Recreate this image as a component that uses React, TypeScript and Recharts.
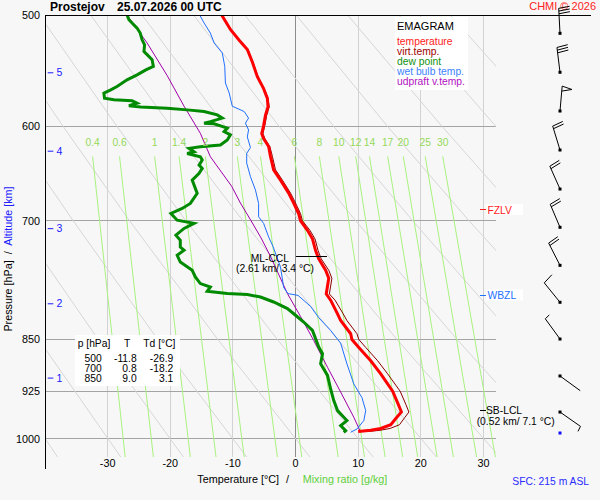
import React from "react";
import { ComposedChart, Line, Scatter, XAxis, YAxis } from "recharts";

// [pressure hPa, temperature °C]
type Pt = [number, number];

const TEMPERATURE: Pt[] = [
  [500, -11.8], [512, -10.4], [521, -9.0], [529, -7.7], [540, -6.9], [553, -6.1],
  [564, -5.1], [573, -4.5], [581, -4.4], [589, -4.8], [599, -5.1], [607, -5.4],
  [612, -5.1], [620, -4.3], [630, -4.0], [644, -3.5], [655, -2.4], [669, -1.1],
  [680, -0.3], [692, 0.5], [700, 0.8], [711, 1.9], [721, 2.7], [735, 3.2],
  [745, 3.7], [759, 4.8], [769, 5.3], [789, 4.9], [797, 5.6], [815, 6.7],
  [824, 7.2], [842, 8.8], [850, 9.0], [861, 10.1], [880, 12.0], [899, 13.6],
  [925, 15.5], [945, 16.4], [957, 16.9], [966, 16.1], [977, 15.2], [983, 13.6],
  [986, 12.0], [988, 10.0],
];

const VIRT_TEMP: Pt[] = [
  [500, -11.7], [512, -10.3], [521, -8.9], [529, -7.6], [540, -6.8], [553, -6.0],
  [564, -5.0], [573, -4.4], [581, -4.2], [589, -4.6], [599, -4.9], [607, -5.2],
  [612, -4.9], [620, -4.1], [630, -3.7], [644, -3.2], [655, -2.1], [669, -0.8],
  [680, 0.0], [692, 0.8], [700, 1.1], [711, 2.3], [721, 3.1], [735, 3.6],
  [745, 4.1], [759, 5.3], [769, 5.8], [789, 5.4], [797, 6.3], [815, 7.6],
  [824, 8.2], [842, 9.8], [850, 10.1], [861, 11.2], [880, 13.1], [899, 14.7],
  [925, 16.7], [945, 17.6], [957, 18.1], [966, 17.4], [977, 16.6], [983, 15.1],
  [986, 13.5], [988, 11.5],
];

const DEW_POINT: Pt[] = [
  [500, -26.9], [503.9, -26.6], [506.6, -26.1], [510.8, -25.3], [515, -24.8],
  [520.7, -24.5], [525, -24.1], [530.7, -24.2], [533.5, -23.7], [538, -22.9],
  [543.9, -22.7], [546.9, -23.9], [551.4, -25.3], [555.9, -26.9], [562, -28.5],
  [565.1, -29.5], [568.1, -30.6], [572.8, -30.5], [574.4, -29.0], [575.3, -26.1],
  [577.5, -25.3], [580, -26.6], [581.2, -24.7], [582.3, -20.5], [583.9, -17.3],
  [585.5, -14.6], [588.7, -12.5], [591.8, -11.7], [595.2, -13.6], [596.7, -14.6],
  [597.4, -13.0], [601.6, -10.9], [604.9, -11.4], [608.2, -10.4], [613.4, -10.9],
  [618.5, -12.0], [620.2, -15.2], [621.8, -17.0], [625.3, -16.2], [627, -17.3],
  [630.4, -15.2], [633.8, -14.9], [639.1, -15.4], [642.5, -14.9], [647.8, -15.4],
  [654.9, -16.5], [669.3, -15.7], [680.4, -16.8], [686, -18.1], [691.6, -19.9],
  [699.3, -18.9], [703, -16.2], [708.8, -17.8], [716.7, -19.1], [722.6, -18.4],
  [730.7, -18.4], [734.5, -17.8], [740.6, -18.9], [748.9, -18.4], [759, -16.5],
  [767.4, -16.0], [775.7, -15.2], [780, -13.6], [785.5, -14.1], [788.5, -10.9],
  [789.7, -7.7], [792.9, -5.6], [799.4, -3.5], [808, -1.3], [816.9, 0.0],
  [826, 1.3], [837.4, 2.7], [860.6, 3.7], [870.1, 4.3], [884.4, 4.0],
  [901.3, 5.1], [921.6, 5.6], [939.2, 6.1], [954.7, 6.7], [965.2, 7.7],
  [970.4, 8.2], [978.4, 7.2], [986.5, 8.0], [989.2, 7.7],
];

const WET_BULB: Pt[] = [
  [500, -15.3], [506.6, -14.6], [515, -13.6], [523.4, -13.0], [532, -11.7],
  [543.9, -11.3], [558.8, -11.2], [567.9, -10.6], [580.4, -10.1], [585.5, -8.2],
  [591.8, -7.5], [596.7, -8.0], [603.4, -7.5], [610.3, -7.7], [621, -7.2],
  [627, -7.8], [637, -7.8], [651.3, -7.2], [665.7, -6.4], [680.4, -5.9],
  [695.4, -5.9], [703, -5.1], [718.7, -4.3], [730, -3.6], [755, -2.4],
  [780.6, -1.9], [788.5, -1.2], [790.8, 0.4], [805.2, 2.4], [820.2, 3.7],
  [837.4, 5.6], [855, 7.2], [884.4, 8.2], [914, 9.3], [934.7, 10.6],
  [954.7, 11.2], [970.4, 10.9], [983.9, 9.8], [989.2, 8.8],
];

const UPDRAFT: Pt[] = [
  [500, -26.9], [523.4, -23.7], [552, -20.5], [580.4, -17.8], [606.7, -15.2],
  [630.4, -13.6], [661.6, -10.2], [680, -8.8], [700, -7.1], [720, -5.5],
  [742, -4.0], [788.5, -1.3], [818.6, 0.8], [851.3, 2.9], [889.4, 5.1],
  [926.2, 7.2], [965.2, 9.3], [989.2, 10.4],
];

const P_TICKS = [500, 600, 700, 850, 925, 1000];
const T_TICKS = [-30, -20, -10, 0, 10, 20, 30];

// mixing ratio lines, g/kg, temperature where they start (630 hPa) and end (1030 hPa)
const MIX_W = [0.4, 0.6, 1, 1.4, 2, 3, 4, 6, 8, 10, 12, 14, 17, 20, 25, 30];
const MIX_T_TOP = [-32.4, -28.1, -22.5, -18.6, -14.4, -9.3, -5.6, -0.2, 3.8, 6.9, 9.6, 11.8, 14.7, 17.2, 20.7, 23.5];
const MIX_T_BOTTOM = [-27.2, -22.7, -16.8, -12.7, -8.2, -2.9, 1.0, 6.8, 11.0, 14.3, 17.1, 19.5, 22.6, 25.2, 28.9, 31.9];

// dry adiabats, temperature at each of the pressure levels
const ADIABAT_P = [500, 600, 700, 850, 1030];
const ADIABAT_T = [
  [-81.9, -71.7, -62.6, -50.6, -38.0],
  [-73.7, -63.1, -53.6, -41.0, -27.9],
  [-65.5, -54.4, -44.6, -31.5, -17.9],
  [-57.3, -45.8, -35.5, -22.0, -7.8],
  [-49.1, -37.1, -26.5, -12.4, 2.3],
  [-40.9, -28.5, -17.5, -2.9, 12.4],
  [-32.7, -19.9, -8.4, 6.7, 22.5],
  [-24.5, -11.2, 0.6, 16.2, 32.6],
  [-16.3, -2.6, 9.6, 25.8, 42.7],
  [-8.1, 6.1, 18.7, 35.3, 52.7],
  [0.1, 14.7, 27.7, 44.9, 62.8],
  [8.3, 23.4, 36.7, 54.4, 72.9],
  [16.5, 32.0, 45.8, 64.0, 83.0],
  [24.7, 40.6, 54.8, 73.5, 93.1],
];

const ALT_KM = [1, 2, 3, 4, 5];
const ALT_P = [904.6, 801.1, 708.5, 624.2, 549.1];

// wind barbs every 0.5 km, top down
const WIND_P = [515.2, 549.1, 585.0, 623.5, 664.6, 707.5, 752.9, 799.8, 849.3, 902.2, 957.0];
const WIND_DIR = [357, 353, 5, 343, 336, 337, 333, 321, 324, 126, 125];
const WIND_KT = [30, 30, 50, 20, 20, 20, 20, 10, 5, 2, 5];
const SFC_P = 990.4;

const TABLE_P = [500, 700, 850];
const TABLE_T = [-11.8, 0.8, 9.0];
const TABLE_TD = [-26.9, -18.2, 3.1];

const FZLV_P = 687;
const WBZL_P = 790.7;
const SB_LCL_P = 954.7;
const ML_CCL_P = 742;

const FONT = "'Liberation Sans', Arial, Helvetica, sans-serif";

const rows = (pts: Pt[]) => pts.map(([p, t]) => ({ p, t }));

function seg(key: string, data: { p: number; t: number }[], stroke: string, width = 1, crisp = false) {
  return (
    <Line
      key={key}
      data={data}
      dataKey="p"
      stroke={stroke}
      strokeWidth={width}
      dot={false}
      activeDot={false}
      legendType="none"
      isAnimationActive={false}
      shapeRendering={crisp ? "crispEdges" : undefined}
    />
  );
}

function MixLabel(props: any) {
  const { cx, cy, payload } = props;
  return (
    <text x={cx} y={cy - 10.5} textAnchor="middle" fontSize={10.3} fill="#95d957" fontFamily={FONT}>
      {payload.w}
    </text>
  );
}

function AltLabel(props: any) {
  const { cx, cy, payload } = props;
  return (
    <g>
      <line x1={cx + 2.7} y1={cy + 0.5} x2={cx + 8.3} y2={cy + 0.5} stroke="#1a1aff" />
      <text x={cx + 11.5} y={cy + 4} fontSize={10.5} fill="#1a1aff" fontFamily={FONT}>
        {payload.km}
      </text>
    </g>
  );
}

function Barb(props: any) {
  const { cx, cy, payload } = props;
  if (payload.kt === null) {
    return <rect x={cx - 1.5} y={cy - 1.5} width={3} height={3} fill="#1010ff" />;
  }
  const a = (payload.dir * Math.PI) / 180;
  const ux = Math.sin(a);
  const uy = -Math.cos(a);
  const nx = -uy;
  const ny = ux;
  const L = 25;
  const tx = cx + ux * L;
  const ty = cy + uy * L;
  let d = `M${cx},${cy}L${tx},${ty}`;
  let rest = payload.kt;
  let off = 0;
  const at = (o: number) => [tx - ux * o, ty - uy * o];
  while (rest >= 50) {
    const [b1x, b1y] = at(off);
    const [b2x, b2y] = at(off + 5);
    const [mx, my] = at(off + 2.5);
    d += `M${b1x},${b1y}L${mx + nx * 10},${my + ny * 10}L${b2x},${b2y}`;
    off += 6;
    rest -= 50;
  }
  while (rest >= 10) {
    const [bx, by] = at(off);
    d += `M${bx},${by}l${nx * 11 + ux * 1.5},${ny * 11 + uy * 1.5}`;
    off += 2.7;
    rest -= 10;
  }
  if (rest >= 5) {
    const [bx, by] = at(off);
    d += `M${bx},${by}l${nx * 5.5 + ux * 0.8},${ny * 5.5 + uy * 0.8}`;
  }
  return (
    <g>
      <path d={d} stroke="#000" strokeWidth={1} fill="none" />
      <rect x={cx - 1.5} y={cy - 1.5} width={3} height={3} fill="#000" />
    </g>
  );
}

export default function App() {
  const isotherms = T_TICKS.map((t) =>
    seg(`iso${t}`, [{ t, p: 500 }, { t, p: 1030 }], t === 0 ? "#8c8c8c" : "#d2d2d2", 1, true)
  );
  const isobars = P_TICKS.filter((p) => p !== 500).map((p) =>
    seg(`bar${p}`, [{ t: -40, p }, { t: 32, p }], "#a4a4a4", 1, true)
  );
  const adiabats = ADIABAT_T.map((row, i) =>
    seg(`ad${i}`, row.map((t, j) => ({ t, p: ADIABAT_P[j] })), "#d6d6d6")
  );
  const mixing = MIX_W.map((w, i) =>
    seg(`mix${w}`, [{ t: MIX_T_TOP[i], p: 630 }, { t: MIX_T_BOTTOM[i], p: 1030 }], "#a9f27f")
  );
  const mixLabels = MIX_W.map((w, i) => ({ t: MIX_T_TOP[i], p: 630, w }));
  const altLabels = ALT_KM.map((km, i) => ({ t: -40, p: ALT_P[i], km }));
  const winds = [
    ...WIND_P.map((p, i) => ({ x: 0, p, dir: WIND_DIR[i], kt: WIND_KT[i] })),
    { x: 0, p: SFC_P, dir: 0, kt: null },
  ];
  const axisTick = { fontSize: 10.8, fill: "#000", fontFamily: FONT };

  return (
    <div style={{ position: "fixed", left: 0, top: 0, width: 600, height: 500, background: "#f7f7f7", fontFamily: FONT }}>
      <div style={{ position: "absolute", left: 0, top: 0 }}>
        <ComposedChart width={600} height={500} margin={{ top: 15, right: 104, bottom: 23, left: 0 }}>
          <XAxis
            type="number"
            dataKey="t"
            domain={[-40, 32]}
            allowDataOverflow
            ticks={T_TICKS}
            interval={0}
            tickLine={false}
            axisLine={false}
            tickSize={0}
            tickMargin={2}
            height={20}
            tick={axisTick}
          />
          <YAxis
            type="number"
            dataKey="p"
            scale="log"
            domain={[500, 1030]}
            allowDataOverflow
            reversed
            ticks={P_TICKS}
            interval={0}
            tickLine={false}
            axisLine={false}
            tickSize={0}
            tickMargin={5}
            width={45}
            tick={axisTick}
          />
          {isotherms}
          {isobars}
          {adiabats}
          {mixing}
          {seg("updraft", rows(UPDRAFT), "#a000a8")}
          {seg("wetbulb", rows(WET_BULB), "#1e6fff")}
          {seg("dewpoint", rows(DEW_POINT), "#008a00", 3)}
          {seg("virt", rows(VIRT_TEMP), "#8a0000")}
          {seg("temp", rows(TEMPERATURE), "#ff0000", 3)}
          {seg("ccl", [{ t: 0.1, p: ML_CCL_P }, { t: 5.0, p: ML_CCL_P }], "#000", 1, true)}
          {seg("fzlv", [{ t: 29.5, p: FZLV_P }, { t: 30.4, p: FZLV_P }], "#ff1a1a", 1, true)}
          {seg("wbzl", [{ t: 29.5, p: WBZL_P }, { t: 30.4, p: WBZL_P }], "#1e6fff", 1, true)}
          {seg("sblcl", [{ t: 29.5, p: SB_LCL_P }, { t: 30.4, p: SB_LCL_P }], "#000", 1, true)}
          <Scatter data={mixLabels} shape={MixLabel} isAnimationActive={false} legendType="none" />
          <Scatter data={altLabels} shape={AltLabel} isAnimationActive={false} legendType="none" />
        </ComposedChart>
      </div>

      <svg width={600} height={500} style={{ position: "absolute", left: 0, top: 0, pointerEvents: "none" }} fontFamily={FONT}>
        <line x1={45} y1={15.5} x2={591} y2={15.5} stroke="#000" />
        <line x1={45.5} y1={15} x2={45.5} y2={469} stroke="#000" />

        <text x={50} y={11} fontSize={12} fontWeight="bold" fill="#000">Prostejov</text>
        <text x={117} y={11} fontSize={12} fontWeight="bold" fill="#000">25.07.2026 00 UTC</text>
        <text x={596} y={10} fontSize={11} textAnchor="end" fill="#ff2222">CHMI © 2026</text>

        <rect x={395} y={17} width={73} height={73} fill="#fff" />
        <text x={397} y={30} fontSize={11} fill="#000">EMAGRAM</text>
        <text x={397} y={45} fontSize={10.3} fill="#ff1a1a">temperature</text>
        <text x={397} y={55} fontSize={10.3} fill="#a00000">virt.temp.</text>
        <text x={397} y={65} fontSize={10.3} fill="#109010">dew point</text>
        <text x={397} y={75} fontSize={10.3} fill="#3a82ff">wet bulb temp.</text>
        <text x={397} y={85} fontSize={10.3} fill="#b010c0">udpraft v.temp.</text>

        <rect x={75} y={335} width={105} height={51} fill="#fff" />
        <text x={77.7} y={347} fontSize={10.3} fill="#000">p [hPa]</text>
        <text x={124} y={347} fontSize={10.3} fill="#000">T</text>
        <text x={143.3} y={347} fontSize={10.3} fill="#000">Td [°C]</text>
        {TABLE_P.map((p, i) => (
          <g key={p}>
            <text x={101.7} y={361.7 + i * 10} fontSize={10.3} textAnchor="end" fill="#000">{p}</text>
            <text x={136.7} y={361.7 + i * 10} fontSize={10.3} textAnchor="end" fill="#000">{TABLE_T[i].toFixed(1)}</text>
            <text x={173.3} y={361.7 + i * 10} fontSize={10.3} textAnchor="end" fill="#000">{TABLE_TD[i].toFixed(1)}</text>
          </g>
        ))}

        <rect x={486} y={204} width={37} height={11} fill="#fff" />
        <text x={487.5} y={213.5} fontSize={10.3} fill="#ff1a1a">FZLV</text>
        <rect x={486} y={289.5} width={37} height={11} fill="#fff" />
        <text x={487.5} y={299} fontSize={10.3} fill="#1e6fff">WBZL</text>

        <text x={250.7} y={261.5} fontSize={10.3} fill="#000">ML-CCL</text>
        <text x={236} y={271.5} fontSize={10.3} fill="#000">(2.61 km/ 3.4 °C)</text>
        <text x={486} y={414} fontSize={10.3} fill="#000">SB-LCL</text>
        <text x={476.7} y={424.5} fontSize={10.3} fill="#000">(0.52 km/ 7.1 °C)</text>

        <text transform="translate(12,259) rotate(-90)" textAnchor="middle" fontSize={10.8} style={{ whiteSpace: "pre" }}>
          <tspan fill="#000">{"Pressure [hPa]  /  "}</tspan>
          <tspan fill="#2020ff">Altitude [km]</tspan>
        </text>
        <text x={197.3} y={483} fontSize={10.8} fill="#000">Temperature [°C]</text>
        <text x={286} y={483} fontSize={10.8} fill="#000">/</text>
        <text x={302.7} y={483} fontSize={10.8} fill="#5fcf3a">Mixing ratio [g/kg]</text>
        <text x={512.3} y={485} fontSize={10.3} fill="#2b2bff">SFC: 215 m ASL</text>
      </svg>

      <div style={{ position: "absolute", left: 496, top: 0 }}>
        <ComposedChart width={104} height={500} margin={{ top: 15, right: 0, bottom: 43, left: 24 }}>
          <XAxis type="number" dataKey="x" domain={[-1, 1]} hide />
          <YAxis type="number" dataKey="p" scale="log" domain={[500, 1030]} reversed hide />
          <Scatter data={winds} shape={Barb} isAnimationActive={false} legendType="none" />
        </ComposedChart>
      </div>
    </div>
  );
}
